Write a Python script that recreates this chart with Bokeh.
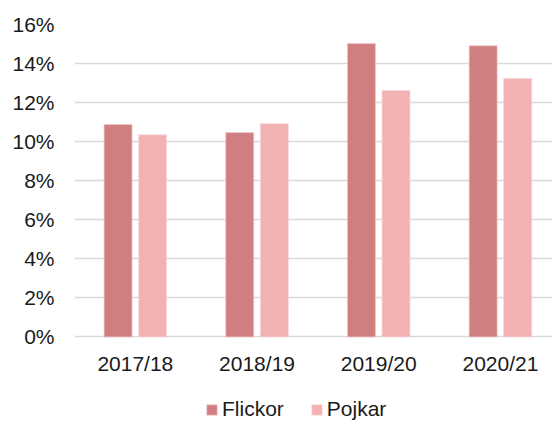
from bokeh.plotting import figure
from bokeh.models import ColumnDataSource, NumeralTickFormatter, FixedTicker, Legend, LegendItem
from bokeh.transform import dodge
from bokeh.embed import file_html
from bokeh.resources import INLINE

categories = ["2017/18", "2018/19", "2019/20", "2020/21"]
flickor = [0.1088, 0.1047, 0.1503, 0.1491]
pojkar = [0.1035, 0.1092, 0.1262, 0.1324]
y_ticks = [0.0, 0.02, 0.04, 0.06, 0.08, 0.10, 0.12, 0.14, 0.16]

FONT = "Liberation Sans"
TXT = "#1a1a1a"

src = ColumnDataSource(dict(x=list(range(len(categories))), f=flickor, p=pojkar))

p = figure(width=552, height=421, output_backend="svg", toolbar_location=None,
           x_range=(-0.5, 3.428), y_range=(-0.0433, 0.16),
           min_border_left=74, min_border_right=0, min_border_top=24, min_border_bottom=0)
p.outline_line_color = None
p.background_fill_color = "white"
p.border_fill_color = "white"

r1 = p.vbar(x=dodge("x", -0.142), top="f", width=0.23, source=src,
            fill_color="#d07e80", line_color="#f0c8c8", line_width=0.7)
r2 = p.vbar(x=dodge("x", 0.142), top="p", width=0.23, source=src,
            fill_color="#f2b2b3", line_color="#f8d8d8", line_width=0.7)

p.xgrid.visible = False
p.ygrid.grid_line_color = "#d9d9d9"
p.ygrid.grid_line_width = 1.6
p.yaxis.ticker = FixedTicker(ticks=y_ticks)
p.yaxis.formatter = NumeralTickFormatter(format="0%")
p.xaxis.ticker = FixedTicker(ticks=list(range(len(categories))))
p.xaxis.major_label_overrides = {i: c for i, c in enumerate(categories)}
p.xaxis.fixed_location = 0

for ax in (p.xaxis[0], p.yaxis[0]):
    ax.axis_line_color = None
    ax.major_tick_line_color = None
    ax.minor_tick_line_color = None
    ax.major_label_text_font = FONT
    ax.major_label_text_font_size = "21px"
    ax.major_label_text_color = TXT
p.yaxis.major_label_standoff = 14
p.xaxis.major_label_standoff = 9

legend = Legend(items=[LegendItem(label="Flickor", renderers=[r1]),
                       LegendItem(label="Pojkar", renderers=[r2])],
                orientation="horizontal", location=(131, 0),
                padding=0, margin=0, spacing=26, label_standoff=4,
                glyph_width=13, glyph_height=13,
                label_text_font=FONT, label_text_font_size="21px", label_text_color=TXT,
                border_line_color=None, background_fill_alpha=0)
p.add_layout(legend, "center")

open("out.html", "w").write(file_html(p, INLINE))
